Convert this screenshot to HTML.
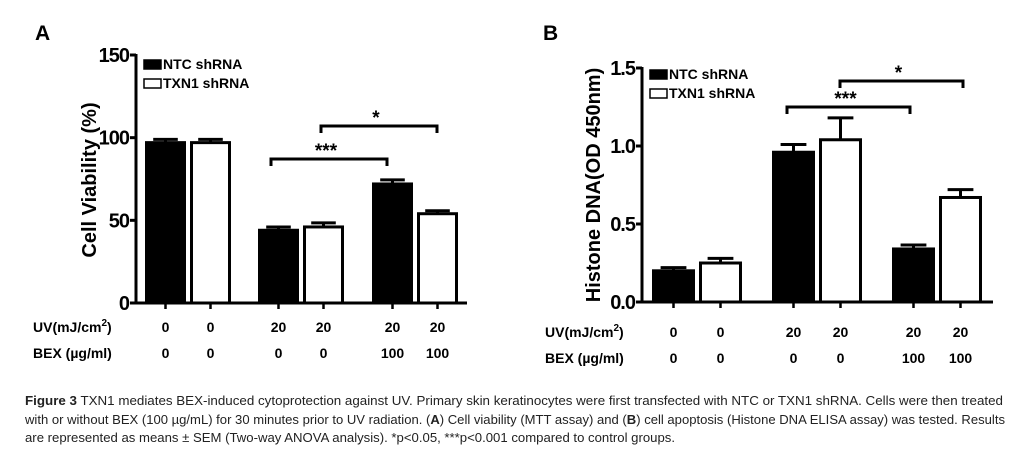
<!DOCTYPE html>
<html><head><meta charset="utf-8"><style>
html,body{margin:0;padding:0;background:#fff;}
svg{display:block;font-family:"Liberation Sans",sans-serif;}
.cap{font-size:12.5px;fill:#222;}
</style></head><body>
<svg id="fig" width="1031" height="464" viewBox="0 0 1031 464" xmlns="http://www.w3.org/2000/svg">
<text x="35" y="40" font-size="21" font-weight="bold">A</text>
<text x="543" y="40" font-size="21" font-weight="bold">B</text>
<g id="chartA"></g>
<g id="chartB"></g>
<g>
<text class="cap" x="25" y="405" textLength="978" lengthAdjust="spacingAndGlyphs"><tspan font-weight="bold">Figure 3</tspan> TXN1 mediates BEX-induced cytoprotection against UV. Primary skin keratinocytes were first transfected with NTC or TXN1 shRNA. Cells were then treated</text>
<text class="cap" x="25" y="424" textLength="980" lengthAdjust="spacingAndGlyphs">with or without BEX (100 µg/mL) for 30 minutes prior to UV radiation. (<tspan font-weight="bold">A</tspan>) Cell viability (MTT assay) and (<tspan font-weight="bold">B</tspan>) cell apoptosis (Histone DNA ELISA assay) was tested. Results</text>
<text class="cap" x="25" y="442" textLength="650" lengthAdjust="spacingAndGlyphs">are represented as means ± SEM (Two-way ANOVA analysis). *p&lt;0.05, ***p&lt;0.001 compared to control groups.</text>
</g>
</svg>
<script>
const uvLabels = ["0","0","20","20","20","20"];
const bexLabels = ["0","0","0","0","100","100"];
const aValues = [97, 97, 44, 46, 72, 54];
const aErrors = [2, 2, 2, 2.5, 2.5, 1.8];
const aTicks = [0, 50, 100, 150];
const bValues = [0.20, 0.25, 0.96, 1.04, 0.34, 0.67];
const bErrors = [0.02, 0.03, 0.05, 0.14, 0.025, 0.05];
const bTicks = ["0.0", "0.5", "1.0", "1.5"];
const seriesNames = ["NTC shRNA", "TXN1 shRNA"];

const NS = "http://www.w3.org/2000/svg";
function mk(parent, tag, attrs, text) {
  const e = document.createElementNS(NS, tag);
  for (const k in attrs) e.setAttribute(k, attrs[k]);
  if (text !== undefined) e.textContent = text;
  parent.appendChild(e);
  return e;
}

function drawChart(g, cfg) {
  const yScale = v => cfg.y0 - (v - cfg.min) / (cfg.max - cfg.min) * (cfg.y0 - cfg.yTop);
  let ax = mk(g, "line", {x1: cfg.ax, y1: cfg.yTop - 1, x2: cfg.ax, y2: cfg.y0 + 1.5, stroke: "#000", "stroke-width": 3});
  
  
  let xa = mk(g, "line", {x1: cfg.ax - 1.5, y1: cfg.y0, x2: cfg.axEnd, y2: cfg.y0, stroke: "#000", "stroke-width": 3});
  
  
  cfg.ticks.forEach(t => {
    const y = yScale(parseFloat(t));
    mk(g, "line", {x1: cfg.ax - 6, y1: y, x2: cfg.ax, y2: y, stroke: "#000", "stroke-width": 3});
    const tl = mk(g, "text", {x: cfg.ax - 7, y: y + 7, "font-size": 20, "font-weight": "bold", "text-anchor": "end", "letter-spacing": "-1"}, t);
    
    
  });
  const yl = mk(g, "text", {x: 0, y: 0, "font-size": 20, "font-weight": "bold", "text-anchor": "middle", transform: `translate(${cfg.ylx},${cfg.yly}) rotate(-90)`}, cfg.ylabel);
  
  
  cfg.values.forEach((v, i) => {
    const x = cfg.barX[i];
    const w = cfg.bw;
    const cx = x + w / 2;
    const filled = i % 2 === 0;
    const y = yScale(v);
    const ye = yScale(v + cfg.errors[i]);
    const el = mk(g, "line", {x1: cx, y1: y, x2: cx, y2: ye, stroke: "#000", "stroke-width": 3});
    
    
    mk(g, "line", {x1: cx - w * 0.3, y1: ye, x2: cx + w * 0.3, y2: ye, stroke: "#000", "stroke-width": 3});
    const r = mk(g, "rect", {x: x + 1.5, y: y, width: w - 3, height: cfg.y0 - y, fill: filled ? "#000" : "#fff", stroke: "#000", "stroke-width": 3});
    
    
    mk(g, "line", {x1: cx, y1: cfg.y0, x2: cx, y2: cfg.y0 + 6, stroke: "#000", "stroke-width": 2.5});
    const u = mk(g, "text", {x: cx, y: cfg.uvY, "font-size": 14, "font-weight": "bold", "text-anchor": "middle"}, uvLabels[i]);
    
    
    const b = mk(g, "text", {x: cx, y: cfg.uvY + 26, "font-size": 14, "font-weight": "bold", "text-anchor": "middle"}, bexLabels[i]);
    
    
  });
  const ur = mk(g, "text", {x: cfg.rowX, y: cfg.uvY, "font-size": 14, "font-weight": "bold"});
  ur.innerHTML = 'UV(mJ/cm<tspan font-size="10" dy="-6">2</tspan><tspan dy="6">)</tspan>';
  
  
  const br = mk(g, "text", {x: cfg.rowX, y: cfg.uvY + 26, "font-size": 14, "font-weight": "bold"}, "BEX (µg/ml)");
  
  
  seriesNames.forEach((n, i) => {
    const ly = cfg.legY + i * 19;
    const lr = mk(g, "rect", {x: cfg.ax + 8, y: ly - 4, width: 17, height: 9, fill: i === 0 ? "#000" : "#fff", stroke: "#000", "stroke-width": 1.5});
    
    
    const lt = mk(g, "text", {x: cfg.ax + 27, y: ly + 5, "font-size": 14, "font-weight": "bold"}, n);
    
    
  });
  cfg.brackets.forEach(bk => {
    const p = mk(g, "path", {d: `M${bk.x1},${bk.y + 7} V${bk.y} H${bk.x2} V${bk.y + 7}`, fill: "none", stroke: "#000", "stroke-width": 3});
    
    
    const s = mk(g, "text", {x: (bk.x1 + bk.x2) / 2 - 3, y: bk.y - 2, "font-size": 19, "font-weight": "bold", "text-anchor": "middle"}, bk.label);
    
    
  });
}

drawChart(document.getElementById("chartA"), {
  values: aValues, errors: aErrors, ticks: aTicks.map(String), min: 0, max: 150,
  ax: 136, axEnd: 467, y0: 303, yTop: 55, bw: 41,
  barX: [145, 190, 258, 303, 372, 417],
  ylabel: "Cell Viability (%)", ylx: 96, yly: 180,
  uvY: 332, rowX: 33, legY: 64,
  brackets: [{x1: 271, x2: 387, y: 159, label: "***"}, {x1: 321, x2: 437, y: 126, label: "*"}]
});
drawChart(document.getElementById("chartB"), {
  values: bValues, errors: bErrors, ticks: bTicks, min: 0, max: 1.5,
  ax: 642, axEnd: 993, y0: 302, yTop: 68, bw: 43,
  barX: [652, 699, 772, 819, 892, 939],
  ylabel: "Histone DNA(OD 450nm)", ylx: 600, yly: 185,
  uvY: 337, rowX: 545, legY: 74,
  brackets: [{x1: 787, x2: 910, y: 107, label: "***"}, {x1: 840, x2: 963, y: 81, label: "*"}]
});
</script>
</body></html>
